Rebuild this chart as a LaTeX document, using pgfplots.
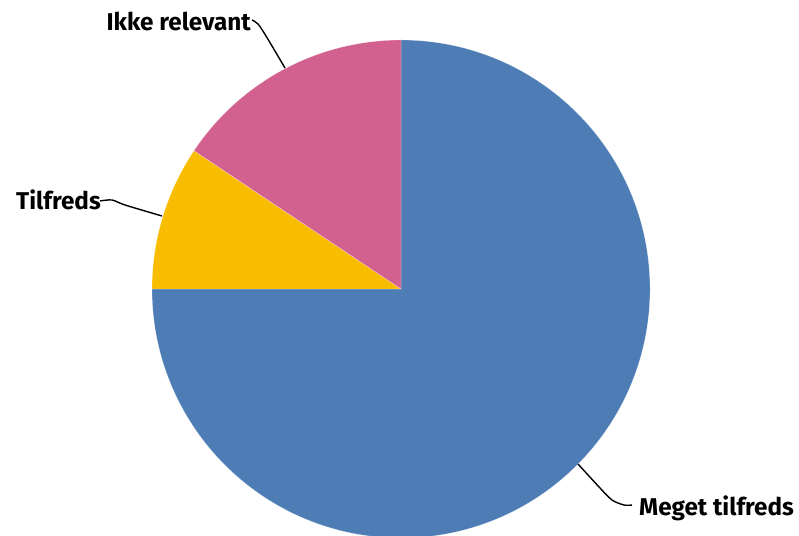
\documentclass[border=0pt]{standalone}
\usepackage{pgfplots}
\usepackage{pgfplotstable}
\pgfplotsset{compat=1.18}
\usepackage{fontspec}
\setmainfont{Fira Sans}
\definecolor{cblue}{RGB}{78,125,181}
\definecolor{cyellow}{RGB}{248,188,0}
\definecolor{cpink}{RGB}{211,97,143}
\pgfplotstableread{
label value
Meget 24
Tilfreds 3
Ikke 5
}\piedata
\begin{document}
\begin{tikzpicture}
\pgfplotstablegetelem{0}{value}\of\piedata \pgfmathsetmacro{\va}{\pgfplotsretval}
\pgfplotstablegetelem{1}{value}\of\piedata \pgfmathsetmacro{\vb}{\pgfplotsretval}
\pgfplotstablegetelem{2}{value}\of\piedata \pgfmathsetmacro{\vc}{\pgfplotsretval}
\pgfmathsetmacro{\tot}{\va+\vb+\vc}
\pgfmathsetmacro{\aA}{90-360*\va/\tot}
\pgfmathsetmacro{\aB}{\aA-360*\vb/\tot}
\pgfmathsetmacro{\aC}{\aB-360*\vc/\tot}
\begin{axis}[at={(0,0)}, anchor=south west, x=1pt, y=1pt, xmin=0, xmax=799, ymin=0, ymax=535,
  scale only axis, hide axis]
\fill[cblue, draw=white, line width=0.3pt, draw opacity=0.6] (axis cs:401,246) -- ++(90:249pt) arc[start angle=90, end angle=\aA, radius=249pt] -- cycle;
\fill[cyellow, draw=white, line width=0.3pt, draw opacity=0.6] (axis cs:401,246) -- ++(\aA:249pt) arc[start angle=\aA, end angle=\aB, radius=249pt] -- cycle;
\fill[cpink, draw=white, line width=0.3pt, draw opacity=0.6] (axis cs:401,246) -- ++(\aB:249pt) arc[start angle=\aB, end angle=\aC, radius=249pt] -- cycle;
\addplot[black, line width=1.4pt, smooth, no marks] coordinates {(252,515) (258,511) (266,499) (285,467)};
\addplot[black, line width=1.4pt, smooth, no marks] coordinates {(100,334) (112,335) (125,330) (162,319)};
\addplot[black, line width=1.4pt, smooth, no marks] coordinates {(578,71) (600,47) (612,35) (624,30) (632,30)};
\node[anchor=base east, inner sep=0pt, font=\bfseries\fontsize{24.3}{28}\selectfont] at (axis cs:251,504) {Ikke relevant};
\node[anchor=base east, inner sep=0pt, font=\bfseries\fontsize{24.3}{28}\selectfont] at (axis cs:101,325) {Tilfreds};
\node[anchor=base west, inner sep=0pt, font=\bfseries\fontsize{24.3}{28}\selectfont] at (axis cs:639,20) {Meget tilfreds};
\end{axis}
\pgfresetboundingbox
\path[use as bounding box] (0,0) rectangle (799pt,535pt);
\end{tikzpicture}
\end{document}
